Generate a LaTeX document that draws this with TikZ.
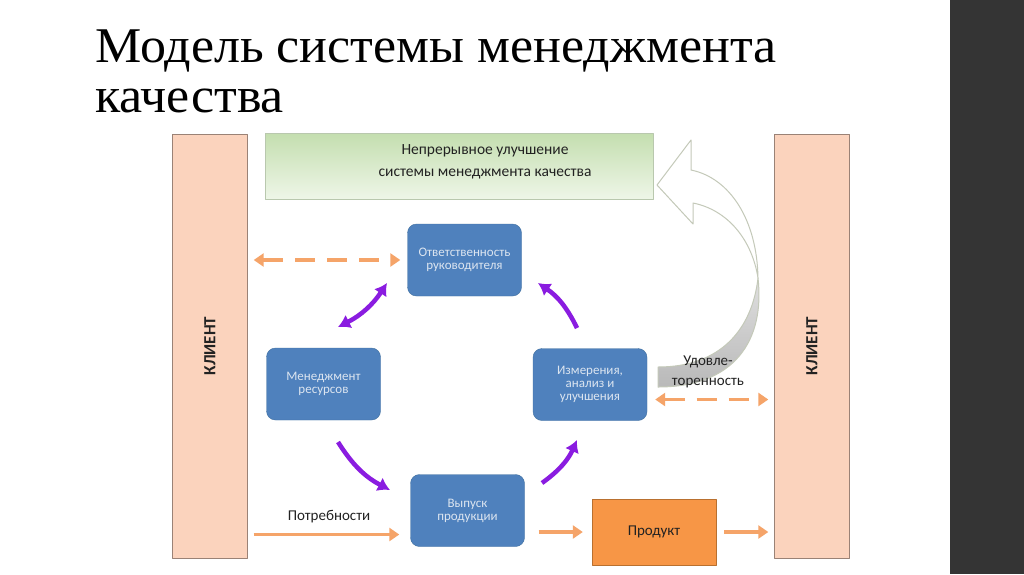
\documentclass[tikz,border=0pt]{standalone}
\usepackage{fontspec}
\setmainfont{Liberation Serif}
\newfontfamily\calibri{Carlito}
\usetikzlibrary{arrows.meta}

\definecolor{peach}{HTML}{FBD3BD}
\definecolor{peachline}{HTML}{9A8276}
\definecolor{boxblue}{HTML}{4F81BD}
\definecolor{boxblueline}{HTML}{41709F}
\definecolor{boxtext}{HTML}{DCE5F0}
\definecolor{arrorange}{HTML}{F5A469}
\definecolor{prodorange}{HTML}{F79646}
\definecolor{prodline}{HTML}{B9702F}
\definecolor{loopviolet}{HTML}{8A1CE0}
\definecolor{greentop}{HTML}{C4DEAF}
\definecolor{greenbot}{HTML}{EEF6E8}
\definecolor{greenline}{HTML}{B9C8AE}
\definecolor{slidebar}{HTML}{343434}
\definecolor{bigline}{HTML}{C4C9B9}
\definecolor{inktext}{HTML}{222222}

\begin{document}
\begin{tikzpicture}[x=1pt, y=-1pt, line join=round,
  client/.style={draw=peachline, fill=peach, rotate=90, minimum width=424, minimum height=75,
    inner sep=0, text=inktext, font=\calibri\bfseries\fontsize{17}{20}\selectfont},
  process/.style={draw=boxblueline, fill=boxblue, rounded corners=9, minimum width=114,
    minimum height=72, text=boxtext, align=center, font=\calibri\fontsize{13}{13}\selectfont},
  flow/.style={arrorange, line width=3.5, -{Triangle[length=10,width=13]}},
  dashflow/.style={flow, {Triangle[length=10,width=13]}-{Triangle[length=10,width=13]},
    dash pattern=on 20 off 12},
  looparrow/.style={loopviolet, line width=4.5, -{Latex[length=12,width=15]}},
  caption/.style={text=inktext, font=\calibri\fontsize{15}{20}\selectfont, align=center, inner sep=0}]
  \useasboundingbox (0,0) rectangle (1024,574);
  \fill[white] (0,0) rectangle (1024,574);
  \fill[slidebar] (950,0) rectangle (1024,574);

  % Title
  \node[anchor=base west, inner sep=0, xscale=1.04, font=\fontsize{50}{50}\selectfont] (title1) at (95,62) {Модель системы менеджмента};
  \node[anchor=base west, inner sep=0, xscale=1.04, font=\fontsize{50}{50}\selectfont] (title2) at (95,112) {качества};

  % Clients left and right
  \node[client] (klientL) at (210,346) {КЛИЕНТ};
  \node[client] (klientR) at (812,346) {КЛИЕНТ};

  % Continual improvement banner
  \node[draw=greenline, top color=greentop, bottom color=greenbot, minimum width=388,
    minimum height=66] (kaizen) at (459,166) {};
  \node[caption, font=\calibri\fontsize{15.5}{22}\selectfont] (kaizentext) at (485,162)
    {Непрерывное улучшение\\системы менеджмента качества};

  % Process boxes
  \node[process] (resp) at (464.5,260) {Ответственность\\руководителя};
  \node[process] (res) at (323.5,384) {Менеджмент\\ресурсов};
  \node[process] (meas) at (590,384.5) {Измерения,\\анализ и\\улучшения};
  \node[process] (prod) at (467.5,510.5) {Выпуск\\продукции};
  \node[draw=prodline, fill=prodorange, minimum width=124, minimum height=66, text=inktext,
    font=\calibri\fontsize{15}{18}\selectfont] (product) at (654,532) {Продукт};

  % Big curved arrow: head part and tail part
  \draw[bigline, fill=white, line width=1] (657,185) -- (691,140) -- (691,170)
    .. controls (730,178) and (757,220) .. (758,278)
    .. controls (752,240) and (728,210) .. (693,203) -- (693,224) -- cycle;
  \draw[bigline, top color=gray!25, bottom color=gray!55, line width=1] (758,278)
    .. controls (752,330) and (720,367) .. (658,367) -- (658,387)
    .. controls (735,387) and (765,340) .. (758,278) -- cycle;
  \node[caption] (satisf) at (708,372) {Удовле-\\торенность};

  % Cycle arrows
  \coordinate (c1a) at (338,327);
  \coordinate (c1b) at (387,283);
  \coordinate (c2a) at (577,328);
  \coordinate (c2b) at (538,283);
  \coordinate (c3a) at (338,442);
  \coordinate (c3b) at (390,490);
  \coordinate (c4a) at (542,483);
  \coordinate (c4b) at (577,440);
  \draw[looparrow, {Latex[length=12,width=15]}-{Latex[length=12,width=15]}] (c1a) to[bend right=15] (c1b);
  \draw[looparrow] (c2a) to[bend right=15] (c2b);
  \draw[looparrow] (c3a) to[bend right=15] (c3b);
  \draw[looparrow] (c4a) to[bend right=15] (c4b);

  % Orange links to the clients
  \draw[dashflow, shorten <=6, shorten >=7] (klientL.south |- resp.west) -- (resp.west);
  \draw[dashflow, shorten <=8, shorten >=6] ([yshift=-15]meas.east) -- ([yshift=-15]meas.east -| klientR.north);
  \draw[flow, shorten <=6, shorten >=11] ([yshift=-24]prod.west -| klientL.south) -- ([yshift=-24]prod.west)
    node[caption, midway, above=10] {Потребности};
  \draw[flow, shorten <=14, shorten >=9] (prod.east |- product.west) -- (product.west);
  \draw[flow, shorten <=8, shorten >=6] (product.east) -- (product.east -| klientR.north);
\end{tikzpicture}
\end{document}
